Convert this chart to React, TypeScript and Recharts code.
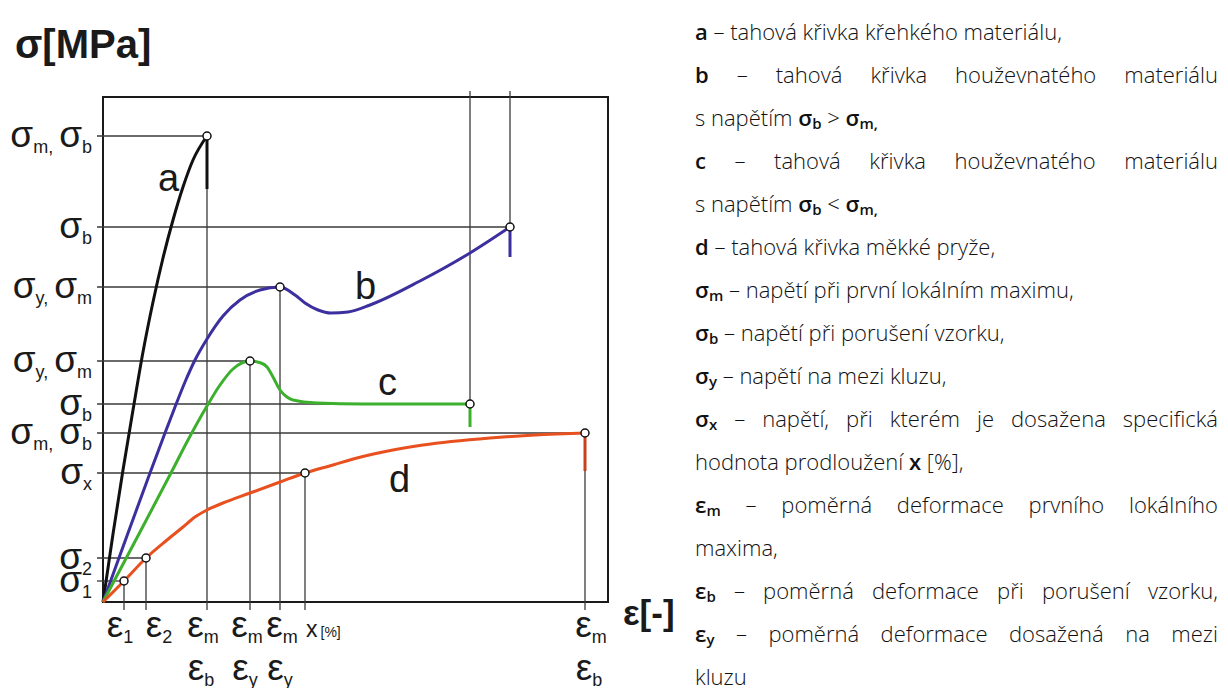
import React from 'react';
import {
  ComposedChart,
  Line,
  XAxis,
  YAxis,
  ReferenceLine,
  ReferenceDot,
  ReferenceArea,
  Label,
} from 'recharts';

// ---- data (strain x, stress y, arbitrary units) ----
const curveA = [
  { x: 0, y: 0 }, { x: 10, y: 68 }, { x: 20, y: 132 }, { x: 30, y: 192 }, { x: 40, y: 250 },
  { x: 50, y: 300 }, { x: 60, y: 344 }, { x: 70, y: 382 }, { x: 80, y: 415 }, { x: 90, y: 442 },
  { x: 104, y: 466 },
];
const curveB = [
  { x: 0, y: 0 }, { x: 25, y: 69 }, { x: 47, y: 129 }, { x: 62, y: 169 }, { x: 72, y: 195 },
  { x: 82, y: 220 }, { x: 92, y: 242 }, { x: 104, y: 263 }, { x: 120, y: 286 }, { x: 137, y: 302 },
  { x: 157, y: 312 }, { x: 177, y: 315 }, { x: 192, y: 307 }, { x: 202, y: 299 }, { x: 215, y: 292 },
  { x: 228, y: 289 }, { x: 245, y: 290 }, { x: 267, y: 297 }, { x: 317, y: 321 }, { x: 367, y: 349 },
  { x: 407, y: 375 },
];
const curveC = [
  { x: 0, y: 0 }, { x: 37, y: 70 }, { x: 69, y: 131 }, { x: 85, y: 162 }, { x: 104, y: 196 },
  { x: 117, y: 217 }, { x: 130, y: 233 }, { x: 147, y: 241 }, { x: 158, y: 239 }, { x: 164, y: 235 },
  { x: 170, y: 225 }, { x: 177, y: 212 }, { x: 184, y: 205 }, { x: 190, y: 202 }, { x: 214, y: 199 },
  { x: 260, y: 198 }, { x: 367, y: 198 },
];
const curveD = [
  { x: 0, y: 0 }, { x: 21, y: 21 }, { x: 43, y: 44 }, { x: 64, y: 62 }, { x: 80, y: 75 },
  { x: 92, y: 85 }, { x: 104, y: 92 }, { x: 120, y: 99 }, { x: 147, y: 109 }, { x: 177, y: 120 },
  { x: 202, y: 129 }, { x: 230, y: 137 }, { x: 254, y: 144 }, { x: 290, y: 152 }, { x: 320, y: 157 },
  { x: 387, y: 164 }, { x: 454, y: 168 }, { x: 482, y: 169 },
];

// characteristic points (open circles)
const markers = [
  { x: 104, y: 466 }, { x: 177, y: 315 }, { x: 407, y: 375 }, { x: 147, y: 241 }, { x: 367, y: 198 },
  { x: 21, y: 21 }, { x: 43, y: 44 }, { x: 202, y: 129 }, { x: 482, y: 169 },
];

// rupture drops: strain, stress before, stress after
const breakStrain = [104, 407, 367, 482];
const breakFrom = [466, 375, 198, 169];
const breakTo = [413, 345, 175, 131];

// stress levels (left labels) and strain where each meets its curve
const sigmaLevels = [466, 375, 315, 241, 198, 169, 129, 44, 21];
const sigmaReach = [104, 407, 177, 147, 367, 482, 202, 43, 21];
const sigmaLabels: string[][] = [
  ['σ', 'm,', 'σ', 'b'], ['σ', 'b'], ['σ', 'y,', 'σ', 'm'], ['σ', 'y,', 'σ', 'm'], ['σ', 'b'],
  ['σ', 'm,', 'σ', 'b'], ['σ', 'x'], ['σ', '2'], ['σ', '1'],
];

// strain marks on bottom axis and stress where the guide starts
const strainMarks = [21, 43, 104, 147, 177, 202, 482];
const strainFrom = [21, 44, 466, 241, 315, 129, 169];
const strainLabels: string[][] = [
  ['ε|1'], ['ε|2'], ['ε|m', 'ε|b'], ['ε|m', 'ε|y'], ['ε|m', 'ε|y'], ['x [%]'], ['ε|m', 'ε|b'],
];

// strain marks on top axis
const topMarks = [367, 407];
const topTo = [198, 375];
const topLabels: string[][] = [['ε|tb'], ['ε|tb', 'ε|tm']];

const curveLetters = ['a', 'b', 'c', 'd'];

type Seg = [string, 'n' | 'b' | 's'];
const legendLines: { segs: Seg[]; justify?: boolean }[] = [
  { segs: [['a', 'b'], [' – tahová křivka křehkého materiálu,', 'n']] },
  { segs: [['b', 'b'], [' – tahová křivka houževnatého materiálu', 'n']], justify: true },
  { segs: [['s napětím ', 'n'], ['σ', 'b'], ['b', 's'], [' > ', 'n'], ['σ', 'b'], ['m,', 's']] },
  { segs: [['c', 'b'], [' – tahová křivka houževnatého materiálu', 'n']], justify: true },
  { segs: [['s napětím ', 'n'], ['σ', 'b'], ['b', 's'], [' < ', 'n'], ['σ', 'b'], ['m,', 's']] },
  { segs: [['d', 'b'], [' – tahová křivka měkké pryže,', 'n']] },
  { segs: [['σ', 'b'], ['m', 's'], [' – napětí při první lokálním maximu,', 'n']] },
  { segs: [['σ', 'b'], ['b', 's'], [' – napětí při porušení vzorku,', 'n']] },
  { segs: [['σ', 'b'], ['y', 's'], [' – napětí na mezi kluzu,', 'n']] },
  { segs: [['σ', 'b'], ['x', 's'], [' – napětí, při kterém je dosažena specifická', 'n']], justify: true },
  { segs: [['hodnota prodloužení ', 'n'], ['x', 'b'], [' [%],', 'n']] },
  { segs: [['ε', 'b'], ['m', 's'], [' – poměrná deformace prvního lokálního', 'n']], justify: true },
  { segs: [['maxima,', 'n']] },
  { segs: [['ε', 'b'], ['b', 's'], [' – poměrná deformace při porušení vzorku,', 'n']], justify: true },
  { segs: [['ε', 'b'], ['y', 's'], [' – poměrná deformace dosažená na mezi', 'n']], justify: true },
  { segs: [['kluzu', 'n']] },
];

// ---- layout / styles ----
const letterPos = [
  { x: 55, y: 411 }, { x: 252, y: 303 }, { x: 275, y: 207 }, { x: 286, y: 110 },
];
const strainShift = [-4, 13, -4, -3, 2, 0, 6];
const topShift = [-6, 1];
const COLORS = ['#111111', '#3c2f9e', '#3cb02c', '#e9501f'];
const BREAK_COLORS = ['#111111', '#3c2f9e', '#3cb02c', '#c8401c'];
const GUIDE = '#3a3a3a';
const FONT = '"Liberation Sans", Arial, sans-serif';
const W = 690;
const H = 688;

const MathLabel = ({ x, y, parts, anchor }: { x: number; y: number; parts: string[]; anchor: string }) => {
  const nodes: React.ReactNode[] = [];
  parts.forEach((p, i) => {
    if (i % 2 === 0) {
      nodes.push(
        <tspan key={i} fontSize={37} dy={i === 0 ? 0 : -6} dx={i === 0 ? 0 : 6}>
          {p}
        </tspan>
      );
    } else {
      nodes.push(
        <tspan key={i} fontSize={18} dy={6}>
          {p}
        </tspan>
      );
    }
  });
  return (
    <text x={x} y={y} textAnchor={anchor as any} fontFamily={FONT} fill="#1a1a1a">
      {nodes}
    </text>
  );
};

const SigmaTick = (props: any) => {
  const { x, y, payload } = props;
  const i = sigmaLevels.indexOf(payload.value);
  if (i < 0) return null;
  return <MathLabel x={x - 3} y={y + 11} parts={sigmaLabels[i]} anchor="end" />;
};

const splitEps = (s: string) => s.split('|');

const StrainTick = (props: any) => {
  const { x, y, payload } = props;
  const i = strainMarks.indexOf(payload.value);
  if (i < 0) return null;
  const rows = strainLabels[i];
  if (rows[0].indexOf('|') < 0) {
    return (
      <text x={x + 1} y={y + 27} fontFamily={FONT} fill="#1a1a1a">
        <tspan fontSize={23}>x</tspan>
        <tspan fontSize={14} dx={3}>[%]</tspan>
      </text>
    );
  }
  return (
    <g>
      {rows.map((r, k) => (
        <MathLabel key={k} x={x + strainShift[i] - k * 2} y={y + 27 + k * 43} parts={splitEps(r)} anchor="middle" />
      ))}
    </g>
  );
};

const TopTick = (props: any) => {
  const { x, y, payload } = props;
  const i = topMarks.indexOf(payload.value);
  if (i < 0) return null;
  return (
    <g>
      {topLabels[i].map((r, k) => (
        <MathLabel key={k} x={x + topShift[i] + k * 2} y={y - 17 - k * 43} parts={splitEps(r)} anchor="middle" />
      ))}
    </g>
  );
};

const YTitle = (props: any) => {
  const vb = props.viewBox || { x: 0, y: 97 };
  return (
    <text x={vb.x + 15} y={vb.y - 39} fontFamily={FONT} fontWeight="bold" fontSize={40} fill="#1a1a1a">
      σ[MPa]
    </text>
  );
};

const XTitle = (props: any) => {
  const vb = props.viewBox || { x: 103, y: 602, width: 505 };
  return (
    <text x={vb.x + vb.width + 15} y={vb.y + 23} fontFamily={FONT} fontWeight="bold" fontSize={35} fill="#1a1a1a">
      ε[-]
    </text>
  );
};

const letterShape = (letter: string) => (p: any) => (
  <text x={p.cx} y={p.cy} fontFamily={FONT} fontSize={38} fill="#1a1a1a">
    {letter}
  </text>
);

const Legend = () => (
  <div
    style={{
      position: 'absolute',
      left: 695,
      top: 10,
      width: 523,
      fontFamily: '"Open Sans", Lato, sans-serif',
      fontSize: 22,
      fontWeight: 300,
      color: '#111',
    }}
  >
    {legendLines.map((ln, i) => (
      <div
        key={i}
        style={{
          height: 43,
          lineHeight: '43px',
          textAlign: ln.justify ? 'justify' : 'left',
          textAlignLast: ln.justify ? 'justify' : 'left',
          whiteSpace: ln.justify ? 'normal' : 'nowrap',
          overflow: 'hidden',
        } as React.CSSProperties}
      >
        {ln.segs.map(([t, k], j) =>
          k === 'n' ? (
            <span key={j}>{t}</span>
          ) : k === 'b' ? (
            <span key={j} style={{ fontWeight: 600 }}>{t}</span>
          ) : (
            <span key={j} style={{ fontWeight: 600, fontSize: 15, verticalAlign: '-3px', lineHeight: 0 }}>{t}</span>
          )
        )}
      </div>
    ))}
  </div>
);

export default function App() {
  const curves = [curveA, curveB, curveC, curveD];
  return (
    <div style={{ position: 'absolute', left: 0, top: 0, width: 1228, height: 688, background: '#fff' }}>
      <ComposedChart width={W} height={H} margin={{ top: 0, right: 82, bottom: 0, left: 0 }}>
        <XAxis
          xAxisId={0}
          dataKey="x"
          type="number"
          domain={[0, 505]}
          ticks={strainMarks}
          interval={0}
          height={86}
          axisLine={false}
          tickLine={false}
          tick={(p: any) => <StrainTick {...p} />}
        >
          <Label content={(p: any) => <XTitle {...p} />} />
        </XAxis>
        <XAxis
          xAxisId="top"
          orientation="top"
          type="number"
          domain={[0, 505]}
          ticks={topMarks}
          interval={0}
          height={97}
          axisLine={false}
          tickLine={false}
          tick={(p: any) => <TopTick {...p} />}
        />
        <YAxis
          type="number"
          domain={[0, 505]}
          ticks={sigmaLevels}
          interval={0}
          width={103}
          axisLine={false}
          tickLine={false}
          tick={(p: any) => <SigmaTick {...p} />}
        >
          <Label content={(p: any) => <YTitle {...p} />} />
        </YAxis>

        <ReferenceArea x1={0} x2={505} y1={0} y2={505} fill="none" fillOpacity={0} stroke="#1a1a1a" strokeWidth={2} ifOverflow="visible" />

        {sigmaLevels.map((s, i) => (
          <ReferenceLine
            key={'h' + i}
            segment={[{ x: -6, y: s }, { x: sigmaReach[i], y: s }]}
            stroke={GUIDE}
            strokeWidth={1.3}
            ifOverflow="visible"
          />
        ))}
        {strainMarks.map((e, i) => (
          <ReferenceLine
            key={'v' + i}
            segment={[{ x: e, y: strainFrom[i] }, { x: e, y: -8 }]}
            stroke={GUIDE}
            strokeWidth={1.3}
            ifOverflow="visible"
          />
        ))}
        {topMarks.map((e, i) => (
          <ReferenceLine
            key={'t' + i}
            segment={[{ x: e, y: 511 }, { x: e, y: topTo[i] }]}
            stroke={GUIDE}
            strokeWidth={1.3}
            ifOverflow="visible"
          />
        ))}

        {curves.map((c, i) => (
          <Line
            key={'c' + i}
            data={c}
            dataKey="y"
            type="monotone"
            stroke={COLORS[i]}
            strokeWidth={3}
            dot={false}
            activeDot={false}
            isAnimationActive={false}
          />
        ))}

        {breakStrain.map((e, i) => (
          <ReferenceLine
            key={'b' + i}
            segment={[{ x: e, y: breakFrom[i] }, { x: e, y: breakTo[i] }]}
            stroke={BREAK_COLORS[i]}
            strokeWidth={3}
            ifOverflow="visible"
          />
        ))}

        {markers.map((m, i) => (
          <ReferenceDot key={'m' + i} x={m.x} y={m.y} r={4} fill="#fff" stroke="#111" strokeWidth={1.5} ifOverflow="visible" />
        ))}

        {curveLetters.map((l, i) => (
          <ReferenceDot key={'l' + i} x={letterPos[i].x} y={letterPos[i].y} r={0} shape={letterShape(l)} ifOverflow="visible" />
        ))}
      </ComposedChart>
      <Legend />
    </div>
  );
}
